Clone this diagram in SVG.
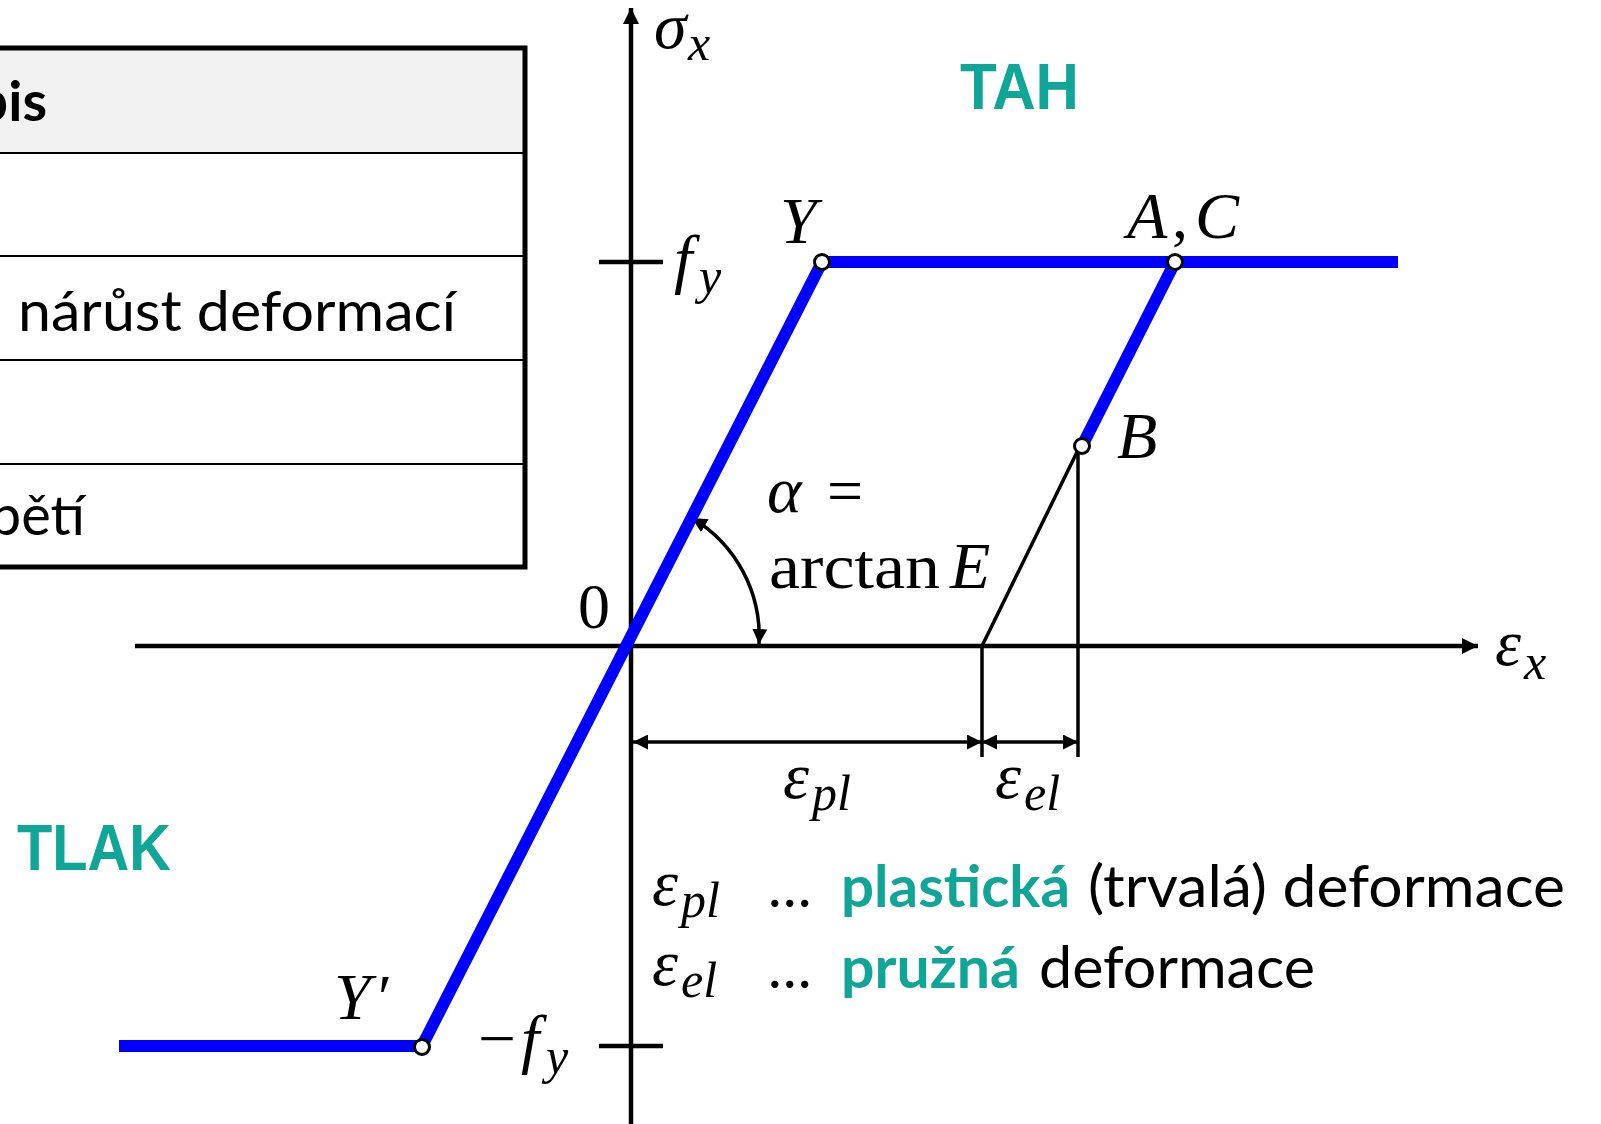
<svg xmlns="http://www.w3.org/2000/svg" width="1601" height="1124" viewBox="0 0 1601 1124">
<style>
.m{font-family:"Liberation Serif",serif;font-style:italic;font-size:66px;fill:#000}
.mu{font-family:"Liberation Serif",serif;font-size:64px;fill:#000}
.s{font-family:"Liberation Serif",serif;font-style:italic;font-size:50px;fill:#000}
.t{font-family:Lato,"Open Sans",sans-serif;font-size:56px;fill:#000}
.tb{font-family:Lato,"Open Sans",sans-serif;font-size:56px;font-weight:bold;fill:#000}
.teal{font-family:"Liberation Sans",Arial,sans-serif;font-weight:bold;font-size:64px;fill:#0FA597}
.lg{font-family:Lato,"Open Sans",sans-serif;font-size:58px;fill:#000}
.lgb{font-family:Lato,"Open Sans",sans-serif;font-size:58px;font-weight:bold;fill:#0FA597}
.ax{stroke:#000;stroke-width:4.5;fill:none}
.thin{stroke:#000;stroke-width:3.5;fill:none}
.blue{stroke:#0000FF;stroke-width:12;fill:none;stroke-linejoin:miter}
.pt{fill:#fff;stroke:#000;stroke-width:3}
</style>
<defs>
<marker id="arr" viewBox="0 0 10 10" refX="10" refY="5" markerUnits="userSpaceOnUse" markerWidth="16" markerHeight="16" orient="auto-start-reverse">
<path d="M0,0 L10,5 L0,10 z" fill="#000"/>
</marker>
<marker id="arrs" viewBox="0 0 10 10" refX="10" refY="5" markerUnits="userSpaceOnUse" markerWidth="15" markerHeight="15" orient="auto-start-reverse">
<path d="M0,0 L10,5 L0,10 z" fill="#000"/>
</marker>
</defs>
<rect width="1601" height="1124" fill="#fff"/>

<g id="table">
<rect x="-10" y="48" width="535" height="105" fill="#F2F2F2"/>
<g stroke="#000" stroke-width="2.2">
<line x1="0" y1="153" x2="525" y2="153"/>
<line x1="0" y1="256" x2="525" y2="256"/>
<line x1="0" y1="360" x2="525" y2="360"/>
<line x1="0" y1="464" x2="525" y2="464"/>
</g>
<rect x="-10" y="48" width="535" height="519" fill="none" stroke="#000" stroke-width="5"/>
<text class="tb" x="47" y="121" text-anchor="end">pis</text>
<text class="t" x="18" y="331" textLength="438" lengthAdjust="spacingAndGlyphs">nárůst deformací</text>
<text class="t" x="85" y="535" text-anchor="end">pětí</text>
</g>

<g id="connectors">
<line class="ax" x1="631" y1="1124" x2="631" y2="8" marker-end="url(#arr)"/>
<line class="ax" x1="135" y1="646" x2="1478" y2="646" marker-end="url(#arr)"/>
<line class="ax" x1="599" y1="262" x2="663" y2="262"/>
<line class="ax" x1="599" y1="1046" x2="663" y2="1046"/>
<line class="thin" x1="982" y1="646" x2="1080" y2="446"/>
<line class="thin" x1="982" y1="646" x2="982" y2="757"/>
<line class="thin" x1="1078" y1="446" x2="1078" y2="757"/>
<line class="thin" x1="633" y1="742" x2="982" y2="742" marker-start="url(#arrs)" marker-end="url(#arrs)"/>
<line class="thin" x1="982" y1="742" x2="1078" y2="742" marker-start="url(#arrs)" marker-end="url(#arrs)"/>
<path class="thin" d="M692,518 A 138 138 0 0 1 759,644" marker-start="url(#arrs)" marker-end="url(#arrs)"/>
</g>

<g id="curve">
<polyline class="blue" points="119,1046 422,1046 822,262 1398,262"/>
<line class="blue" x1="1082" y1="446" x2="1175" y2="262"/>
</g>

<g id="points">
<circle id="pY" class="pt" cx="822" cy="262" r="7.5"/>
<circle id="pA" class="pt" cx="1175" cy="262" r="7.5"/>
<circle id="pB" class="pt" cx="1082" cy="446" r="7.5"/>
<circle id="pY2" class="pt" cx="422" cy="1047" r="7.5"/>
</g>

<g id="labels">
<text class="m" x="654" y="48">σ</text><text class="s" x="688" y="60">x</text>
<text class="m" x="674" y="281">f</text><text class="s" x="699" y="293">y</text>
<text class="m" x="780" y="243">Y</text>
<text class="m" x="1127" y="238">A</text><text class="mu" x="1172" y="238">,</text><text class="m" x="1195" y="238">C</text>
<text class="m" x="1117" y="458">B</text>
<text class="mu" x="578" y="628">0</text>
<text class="m" x="767" y="512">α</text><text class="mu" x="827" y="512">=</text>
<text class="mu" x="769" y="588" textLength="171" lengthAdjust="spacingAndGlyphs">arctan</text><text class="m" x="950" y="588">E</text>
<text class="m" x="783" y="798">ε</text><text class="s" x="812" y="810">pl</text>
<text class="m" x="995" y="798">ε</text><text class="s" x="1024" y="810">el</text>
<text class="m" x="1495" y="665">ε</text><text class="s" x="1524" y="679">x</text>
<text class="mu" x="478" y="1060" textLength="38" lengthAdjust="spacingAndGlyphs">−</text><text class="m" x="521" y="1061">f</text><text class="s" x="546" y="1073">y</text>
<text class="m" x="334" y="1019">Y</text><text class="mu" x="378" y="1019">′</text>
<text class="teal" x="960" y="109" textLength="119" lengthAdjust="spacingAndGlyphs">TAH</text>
<text class="teal" x="17" y="870" textLength="154" lengthAdjust="spacingAndGlyphs">TLAK</text>
</g>

<g id="legend">
<text class="m" x="652" y="905">ε</text><text class="s" x="681" y="917">pl</text>
<text class="lg" x="768" y="907">…</text>
<text class="lgb" x="841" y="907" textLength="229" lengthAdjust="spacingAndGlyphs">plastická</text>
<text class="lg" x="1088" y="907" textLength="477" lengthAdjust="spacingAndGlyphs">(trvalá) deformace</text>
<text class="m" x="652" y="985">ε</text><text class="s" x="681" y="997">el</text>
<text class="lg" x="768" y="988">…</text>
<text class="lgb" x="841" y="988" textLength="179" lengthAdjust="spacingAndGlyphs">pružná</text>
<text class="lg" x="1039" y="988" textLength="276" lengthAdjust="spacingAndGlyphs">deformace</text>
</g>
</svg>
